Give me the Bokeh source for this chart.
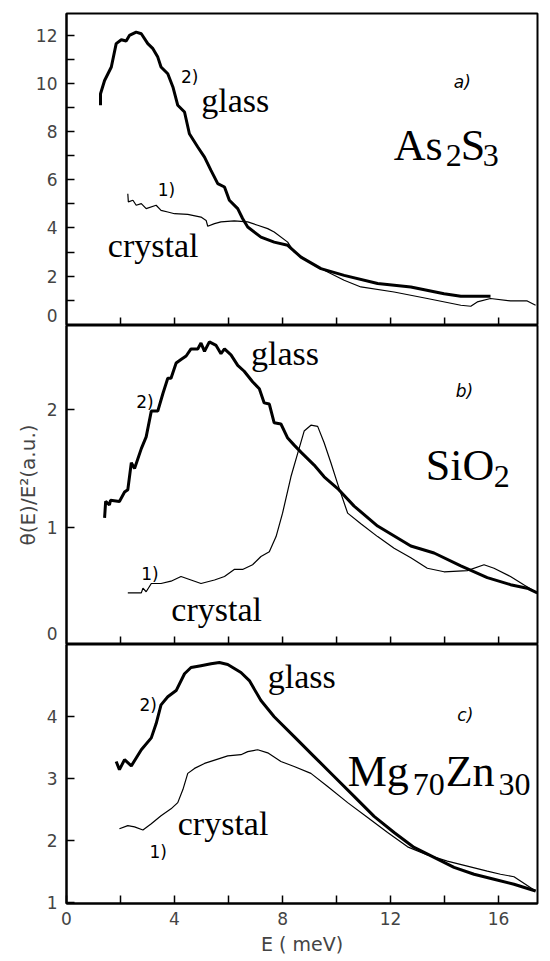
import math
from bokeh.plotting import figure
from bokeh.layouts import column
from bokeh.models import FixedTicker, Label, Range1d
from bokeh.embed import file_html
from bokeh.resources import INLINE

# ---------------- data ----------------
# panel a) As2S3
a_glass_e = [1.26, 1.26, 1.41, 1.66, 1.84, 2.03, 2.21, 2.33, 2.58, 2.77, 3.01, 3.20, 3.38, 3.50, 3.75,
             3.94, 4.12, 4.37, 4.55, 4.86, 5.11, 5.35, 5.60, 5.85, 6.03, 6.34, 6.52, 6.71, 7.20, 7.69,
             8.19, 8.68, 9.42, 10.28, 11.52, 12.75, 13.98, 14.60, 15.70]
a_glass_v = [9.09, 9.57, 10.12, 10.68, 11.65, 11.81, 11.76, 11.99, 12.13, 12.06, 11.65, 11.44, 11.09,
             10.68, 10.40, 9.85, 9.09, 8.81, 7.91, 7.36, 6.94, 6.39, 5.84, 5.70, 5.15, 4.80, 4.39, 4.04,
             3.62, 3.41, 3.28, 2.79, 2.31, 2.03, 1.69, 1.55, 1.27, 1.16, 1.16]
a_cryst_e = [2.27, 2.29, 2.46, 2.58, 2.77, 2.95, 3.32, 3.50, 3.75, 4.00, 4.49, 4.98, 5.17, 5.23, 5.48,
             5.72, 6.21, 6.71, 7.08, 7.45, 7.69, 8.19, 8.43, 9.17, 9.67, 10.28, 10.90, 12.13, 13.36,
             14.60, 14.97, 15.21, 15.70, 16.44, 17.06, 17.37]
a_cryst_v = [5.42, 5.08, 5.15, 4.94, 5.01, 4.80, 4.94, 4.73, 4.66, 4.59, 4.56, 4.45, 4.31, 4.07, 4.18,
             4.25, 4.29, 4.25, 4.11, 3.97, 3.83, 3.41, 3.00, 2.45, 2.17, 1.83, 1.55, 1.34, 1.07, 0.79,
             0.75, 0.93, 1.07, 0.97, 0.97, 0.79]

# panel b) SiO2
b_glass_e = [1.41, 1.45, 1.59, 1.63, 1.96, 2.15, 2.27, 2.40, 2.52, 2.77, 2.95, 3.14, 3.38, 3.57, 3.75,
             3.87, 4.06, 4.24, 4.43, 4.61, 4.86, 4.98, 5.11, 5.29, 5.54, 5.72, 5.85, 6.09, 6.34, 6.58,
             6.89, 7.14, 7.32, 7.51, 7.69, 7.94, 8.19, 8.43, 8.68, 9.17, 9.54, 10.04, 10.65, 11.52,
             12.75, 13.61, 14.60, 15.58, 16.44, 17.06, 17.43]
b_glass_v = [1.08, 1.22, 1.19, 1.23, 1.22, 1.30, 1.32, 1.55, 1.50, 1.67, 1.77, 1.99, 1.99, 2.14, 2.27,
             2.27, 2.40, 2.43, 2.46, 2.52, 2.52, 2.57, 2.50, 2.58, 2.55, 2.48, 2.52, 2.47, 2.38, 2.33,
             2.24, 2.18, 2.06, 2.05, 1.89, 1.88, 1.76, 1.70, 1.64, 1.53, 1.43, 1.33, 1.18, 1.01,
             0.84, 0.78, 0.67, 0.57, 0.51, 0.48, 0.44]
b_cryst_e = [2.27, 2.77, 2.83, 2.95, 3.14, 3.50, 3.87, 4.24, 4.61, 4.98, 5.48, 5.85, 6.21, 6.52, 6.89,
             7.20, 7.51, 7.76, 8.00, 8.31, 8.56, 8.80, 9.05, 9.30, 9.54, 9.79, 10.04, 10.41, 10.90,
             11.52, 12.13, 12.75, 13.36, 13.98, 14.84, 15.46, 15.83, 16.44, 16.93, 17.43]
b_cryst_v = [0.44, 0.44, 0.48, 0.45, 0.52, 0.52, 0.54, 0.58, 0.55, 0.52, 0.55, 0.58, 0.64, 0.64, 0.68,
             0.75, 0.79, 0.92, 1.12, 1.43, 1.63, 1.82, 1.87, 1.86, 1.72, 1.55, 1.37, 1.12, 1.03,
             0.92, 0.82, 0.74, 0.65, 0.62, 0.63, 0.68, 0.65, 0.58, 0.51, 0.44]

# panel c) Mg70Zn30
c_glass_e = [1.84, 1.96, 2.15, 2.40, 2.77, 3.14, 3.32, 3.50, 3.75, 4.06, 4.37, 4.61, 4.98, 5.35, 5.66,
             5.97, 6.46, 6.77, 7.20, 7.69, 8.43, 9.17, 9.91, 10.65, 11.39, 12.13, 12.87, 13.61, 14.35,
             15.09, 15.83, 16.57, 17.37]
c_glass_v = [3.27, 3.14, 3.30, 3.20, 3.46, 3.65, 3.88, 4.18, 4.31, 4.41, 4.68, 4.78, 4.81, 4.84, 4.86,
             4.83, 4.70, 4.57, 4.25, 3.99, 3.67, 3.35, 3.03, 2.71, 2.39, 2.13, 1.89, 1.73, 1.57,
             1.46, 1.38, 1.30, 1.19]
c_cryst_e = [1.96, 2.27, 2.52, 2.83, 3.14, 3.50, 3.87, 4.12, 4.31, 4.49, 4.74, 5.11, 5.60, 5.97, 6.46,
             6.71, 7.08, 7.45, 7.94, 8.43, 9.05, 9.67, 10.41, 11.15, 11.89, 12.63, 13.36, 14.10,
             14.84, 15.58, 16.07, 16.57, 17.37]
c_cryst_v = [2.19, 2.24, 2.22, 2.17, 2.27, 2.40, 2.51, 2.61, 2.82, 3.08, 3.16, 3.24, 3.31, 3.36, 3.38,
             3.43, 3.46, 3.41, 3.27, 3.19, 3.08, 2.87, 2.61, 2.37, 2.13, 1.90, 1.77, 1.67, 1.59,
             1.51, 1.46, 1.42, 1.19]

# ticks
x_ticks = [0, 2, 4, 6, 8, 10, 12, 14, 16]
x_tick_labels = {0: "0", 2: "", 4: "4", 6: "", 8: "8", 10: "", 12: "12", 14: "", 16: "16"}
# panel a: tick marks at every unit, labels at even values ("0" lifted off the panel edge)
a_tick_marks = [1, 2, 3, 4, 5, 6, 7, 8, 9, 10, 11, 12]
a_label_pos = [0.38, 2, 4, 6, 8, 10, 12]
a_label_txt = {0.38: "0", 2: "2", 4: "4", 6: "6", 8: "8", 10: "10", 12: "12"}
# panel b
b_tick_marks = [1, 2]
b_label_pos = [0.09, 1, 2]
b_label_txt = {0.09: "0", 1: "1", 2: "2"}
# panel c
c_tick_marks = [1, 2, 3, 4]
c_label_pos = [1, 2, 3, 4]
c_label_txt = {1: "1", 2: "2", 3: "3", 4: "4"}

SANS = "DejaVu Sans"
SERIF = "Liberation Serif"
FRAME_W = 471
X_MAX = 17.44
TICK_FONT = "17px"


def panel(frame_h, y0, y1, marks, lpos, ltxt, top, bottom, show_x):
    p = figure(frame_width=FRAME_W, frame_height=frame_h,
               x_range=Range1d(0, X_MAX), y_range=Range1d(y0, y1),
               output_backend="svg", toolbar_location=None,
               min_border_left=66, min_border_right=5,
               min_border_top=top, min_border_bottom=bottom)
    p.grid.visible = False
    p.outline_line_color = "black"
    p.outline_line_width = 2
    p.background_fill_color = "white"
    p.border_fill_color = "white"
    xa = p.xaxis[0]
    if show_x:
        xa.ticker = FixedTicker(ticks=x_ticks)
        xa.major_label_overrides = x_tick_labels
        xa.major_tick_in = 8
        xa.major_tick_out = 0
        xa.minor_tick_in = 0
        xa.minor_tick_out = 0
        xa.major_tick_line_width = 1.5
        xa.axis_line_width = 2
        xa.major_label_text_font = SANS
        xa.major_label_text_font_size = TICK_FONT
        xa.major_label_standoff = 8
        xa.axis_label = "E ( meV)"
        xa.axis_label_text_font = SANS
        xa.axis_label_text_font_size = "19px"
        xa.axis_label_text_font_style = "normal"
        xa.axis_label_standoff = 5
    else:
        xa.visible = False
        # inward tick marks on the shared energy axis
        p.ray(x=x_ticks[1:], y=[y0] * (len(x_ticks) - 1), length=8, angle=math.pi / 2,
              length_units="screen", line_color="black", line_width=1.5)
    ya = p.yaxis[0]
    # labels come from the major ticks (no mark), marks from the minor ticks
    ya.ticker = FixedTicker(ticks=lpos, minor_ticks=marks)
    ya.major_label_overrides = ltxt
    ya.major_tick_in = 0
    ya.major_tick_out = 0
    ya.minor_tick_in = 8
    ya.minor_tick_out = 0
    ya.minor_tick_line_width = 1.5
    ya.minor_tick_line_color = "black"
    ya.axis_line_width = 2
    ya.major_label_text_font = SANS
    ya.major_label_text_font_size = TICK_FONT
    ya.major_label_standoff = 9
    return p


def txt(p, x, y, s, font=SERIF, size="34px", style="normal"):
    p.add_layout(Label(x=x, y=y, text=s, text_font=font, text_font_size=size,
                       text_font_style=style, text_baseline="alphabetic", text_align="left",
                       text_color="black"))


# ---------- panel a ----------
A0, A1 = -0.05, 12.9
pa = panel(312, A0, A1, a_tick_marks, a_label_pos, a_label_txt, 13, 0, False)
pa.line(a_cryst_e, a_cryst_v, line_color="black", line_width=1.2)
pa.line(a_glass_e, a_glass_v, line_color="black", line_width=3)
txt(pa, 4.24, 10.25, "2)", SANS, "17px")
txt(pa, 4.99, 9.29, "glass")
txt(pa, 14.34, 10.04, "a)", SANS, "17px", "italic")
txt(pa, 3.38, 5.56, "1)", SANS, "17px")
txt(pa, 1.53, 3.28, "crystal")
txt(pa, 12.12, 7.43, "As", SERIF, "44px")
txt(pa, 14.04, 7.01, "2", SERIF, "32px")
txt(pa, 14.60, 7.43, "S", SERIF, "44px")
txt(pa, 15.41, 7.01, "3", SERIF, "32px")

# ---------- panel b ----------
B0, B1 = 0.0, 2.72
pb = panel(319, B0, B1, b_tick_marks, b_label_pos, b_label_txt, 0, 0, False)
pb.yaxis[0].axis_label = "θ(E)/E²(a.u.)"
pb.yaxis[0].axis_label_text_font = SANS
pb.yaxis[0].axis_label_text_font_size = "20px"
pb.yaxis[0].axis_label_text_font_style = "normal"
pb.yaxis[0].axis_label_standoff = 4
pb.line(b_cryst_e, b_cryst_v, line_color="black", line_width=1.2)
pb.line(b_glass_e, b_glass_v, line_color="black", line_width=3)
txt(pb, 6.83, 2.48, "glass")
txt(pb, 2.58, 2.07, "2)", SANS, "17px")
txt(pb, 14.41, 2.16, "b)", SANS, "17px", "italic")
txt(pb, 2.77, 0.60, "1)", SANS, "17px")
txt(pb, 3.88, 0.30, "crystal")
txt(pb, 13.30, 1.53, "SiO", SERIF, "44px")
txt(pb, 15.82, 1.43, "2", SERIF, "32px")

# ---------- panel c ----------
pc = panel(259, 0.99, 5.15, c_tick_marks, c_label_pos, c_label_txt, 0, 54, True)
pc.line(c_cryst_e, c_cryst_v, line_color="black", line_width=1.2)
pc.line(c_glass_e, c_glass_v, line_color="black", line_width=3)
txt(pc, 7.45, 4.63, "glass")
txt(pc, 2.70, 4.18, "2)", SANS, "17px")
txt(pc, 14.47, 4.02, "c)", SANS, "17px", "italic")
txt(pc, 4.12, 2.27, "crystal")
txt(pc, 3.07, 1.82, "1)", SANS, "17px")
txt(pc, 10.41, 3.11, "Mg", SERIF, "44px")
txt(pc, 12.82, 2.90, "70", SERIF, "32px")
txt(pc, 14.04, 3.11, "Zn", SERIF, "44px")
txt(pc, 16.00, 2.90, "30", SERIF, "32px")

p = column(pa, pb, pc, spacing=0)
open("out.html", "w").write(file_html(p, INLINE))
